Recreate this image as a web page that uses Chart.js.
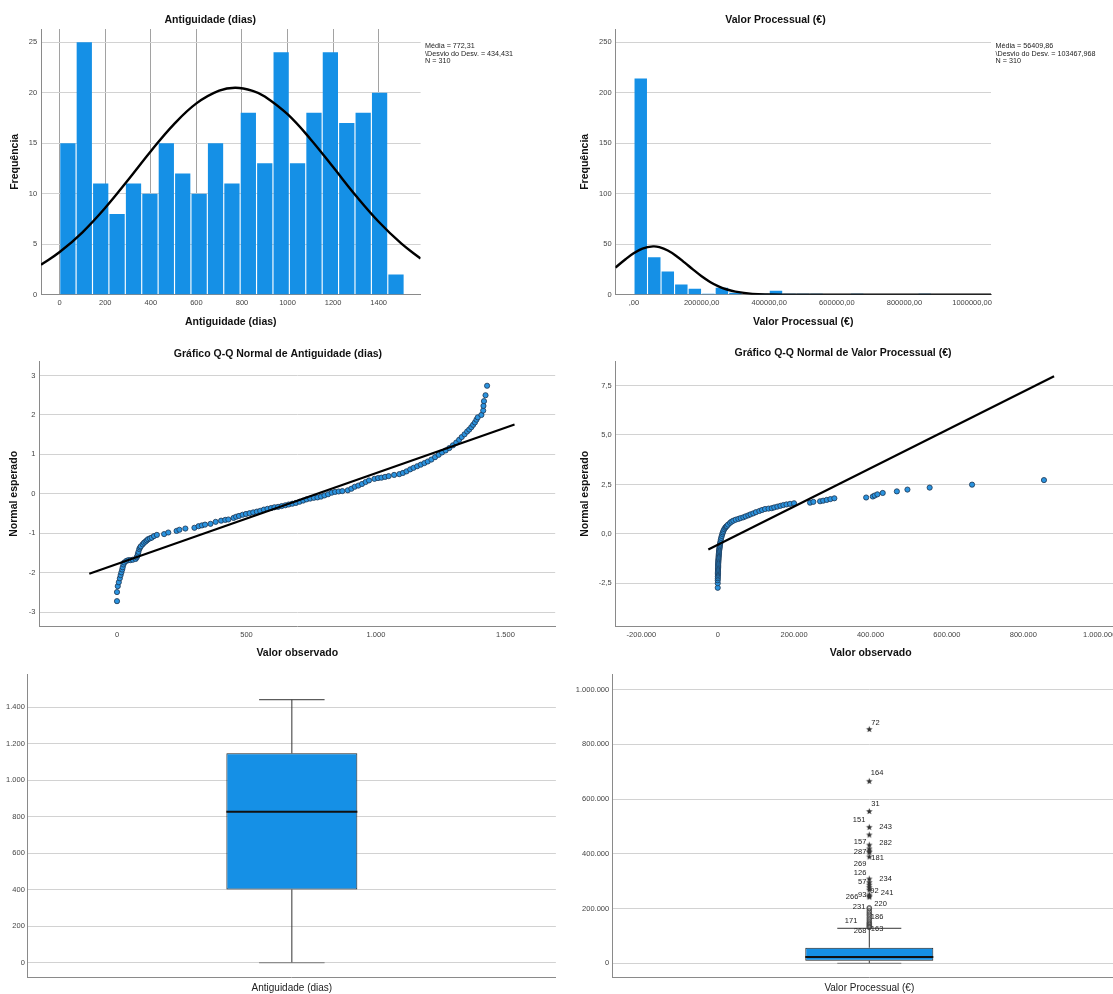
<!DOCTYPE html>
<html>
<head>
<meta charset="utf-8">
<script src="https://cdn.jsdelivr.net/npm/chart.js@4.4.0/dist/chart.umd.min.js"></script>
<style>
html, body { margin: 0; padding: 0; background: #fff; overflow: hidden; width: 1113px; height: 994px; position: relative; }
canvas { position: absolute; }
</style>
</head>
<body>
<canvas id="histAntig" width="560" height="335" style="left:0;top:0"></canvas>
<canvas id="histValor" width="580" height="335" style="left:560px;top:0"></canvas>
<canvas id="qqAntig" width="560" height="330" style="left:0;top:335px"></canvas>
<canvas id="qqValor" width="580" height="330" style="left:560px;top:335px"></canvas>
<canvas id="boxAntig" width="560" height="329" style="left:0;top:665px"></canvas>
<canvas id="boxValor" width="580" height="329" style="left:560px;top:665px"></canvas>
<script>
// ---- histogram: Antiguidade (dias)
const antigBinMid = [36, 108, 180, 252, 324, 396, 468, 540, 612, 684, 756, 828, 900, 972, 1044, 1116, 1188, 1260, 1332, 1404, 1476];
const antigFreq = [15, 25, 11, 8, 11, 10, 15, 12, 10, 15, 11, 18, 13, 24, 13, 18, 24, 17, 18, 20, 2];
const antigCurveX = [-82, 0, 100, 200, 300, 400, 500, 600, 700, 772, 850, 900, 1000, 1100, 1200, 1300, 1400, 1500, 1584];
const antigCurveY = [2.96, 4.22, 6.18, 8.6, 11.35, 14.2, 16.84, 18.94, 20.2, 20.49, 20.16, 19.63, 17.87, 15.42, 12.63, 9.8, 7.22, 5.05, 3.58];
const antigXTicks = [0, 200, 400, 600, 800, 1000, 1200, 1400];
const antigXLabels = ['0', '200', '400', '600', '800', '1000', '1200', '1400'];
const antigFreqTicks = [0, 5, 10, 15, 20, 25];
const antigStats = ['Média = 772,31', '\\Desvio do Desv. = 434,431', 'N = 310'];

// ---- histogram: Valor Processual
const valorBinMid = [20000, 60000, 100000, 140000, 180000, 220000, 260000, 300000, 340000, 380000, 420000,
  460000, 500000, 540000, 580000, 620000, 660000, 700000, 740000, 780000, 820000, 860000];
const valorFreq = [214, 37, 23, 10, 6, 1, 7, 2, 0, 1, 4, 1, 1, 1, 0, 0, 1, 0, 0, 0, 0, 1];
const valorCurveX = [-55000, -25000, 0, 25000, 56410, 75000, 100000, 125000, 150000, 175000, 200000, 225000,
  250000, 275000, 300000, 350000, 400000, 450000, 500000, 1056000];
const valorCurveY = [26.8, 35.1, 41.2, 45.7, 47.8, 47.04, 43.75, 38.4, 31.76, 24.8, 18.26, 12.65, 8.31, 5.13,
  2.99, 0.85, 0.19, 0.03, 0, 0];
const valorXTicks = [0, 200000, 400000, 600000, 800000, 1000000];
const valorXLabels = [',00', '200000,00', '400000,00', '600000,00', '800000,00', '1000000,00'];
const valorFreqTicks = [0, 50, 100, 150, 200, 250];
const valorStats = ['Média = 56409,86', '\\Desvio do Desv. = 103467,968', 'N = 310'];

// ---- Q-Q: Antiguidade
const antigQQObs = [0, 0, 3, 7, 11, 14, 17, 20, 22, 25, 28, 36, 44, 52, 61, 72, 76, 79, 81, 83,
  86, 89, 92, 99, 104, 110, 115, 120, 127, 134, 143, 154, 182, 198, 230, 241, 264, 299, 315, 328,
  340, 361, 381, 402, 418, 430, 450, 460, 471, 485, 498, 512, 526, 540, 553, 567, 581, 595, 608, 622,
  636, 650, 663, 677, 691, 705, 719, 732, 746, 760, 774, 788, 801, 815, 829, 842, 856, 870, 891, 905,
  918, 932, 946, 960, 973, 994, 1008, 1021, 1035, 1049, 1070, 1090, 1104, 1118, 1132, 1145, 1159, 1173, 1187, 1200,
  1214, 1228, 1242, 1255, 1269, 1283, 1297, 1310, 1321, 1331, 1342, 1352, 1360, 1368, 1375, 1382, 1388, 1393, 1407, 1414,
  1415, 1417, 1423, 1429];
const antigQQExp = [-2.72, -2.49, -2.34, -2.24, -2.14, -2.06, -1.99, -1.92, -1.86, -1.79, -1.74, -1.70, -1.68, -1.68, -1.67, -1.65, -1.61, -1.57, -1.52, -1.47,
  -1.40, -1.36, -1.33, -1.28, -1.24, -1.21, -1.18, -1.15, -1.13, -1.11, -1.07, -1.04, -1.02, -0.98, -0.94, -0.91, -0.88, -0.86, -0.82, -0.80,
  -0.78, -0.76, -0.71, -0.68, -0.66, -0.65, -0.61, -0.58, -0.56, -0.53, -0.51, -0.49, -0.47, -0.45, -0.43, -0.40, -0.38, -0.36, -0.34, -0.33,
  -0.31, -0.29, -0.27, -0.25, -0.23, -0.20, -0.17, -0.14, -0.12, -0.10, -0.09, -0.07, -0.04, -0.01, 0.03, 0.05, 0.06, 0.07, 0.09, 0.13,
  0.18, 0.21, 0.25, 0.30, 0.34, 0.38, 0.40, 0.41, 0.43, 0.45, 0.48, 0.50, 0.53, 0.57, 0.62, 0.66, 0.70, 0.74, 0.78, 0.82,
  0.87, 0.93, 0.99, 1.05, 1.10, 1.16, 1.23, 1.30, 1.37, 1.44, 1.51, 1.58, 1.63, 1.69, 1.75, 1.81, 1.88, 1.94, 2.00, 2.11,
  2.23, 2.35, 2.50, 2.74];
const antigRefX = [-107, 1535];
const antigRefY = [-2.024, 1.756];
const antigQQXTicks = [0, 500, 1000, 1500];
const antigQQXLabels = ['0', '500', '1.000', '1.500'];
const antigQQYTicks = [-3, -2, -1, 0, 1, 2, 3];
const antigQQYLabels = ['-3', '-2', '-1', '0', '1', '2', '3'];

// ---- Q-Q: Valor Processual
const valorQQObs = [0, 0, 0, 200, 300, 400, 500, 500, 600, 700, 800, 900, 1000, 1100, 1200, 1400, 1500, 1700, 1900, 2100,
  2300, 2500, 2800, 3000, 3300, 3600, 4000, 4400, 4800, 5300, 5800, 6300, 7000, 7900, 9000, 10500, 12000, 13500, 15000, 17000,
  19500, 21500, 23600, 27000, 32200, 36000, 40800, 47000, 53900, 60000, 67000, 73000, 80100, 86000, 93200, 100000, 108900, 116000, 123900, 133000,
  141400, 148000, 156100, 164000, 171800, 180000, 189300, 199800, 241700, 250300, 267900, 276000, 285400, 295000, 305300, 388600, 406000, 411000, 418000, 432000,
  469000, 496700, 554900, 665900, 854200];
const valorQQExp = [-2.72, -2.49, -2.34, -2.24, -2.15, -2.07, -2.00, -1.94, -1.88, -1.82, -1.76, -1.70, -1.64, -1.58, -1.52, -1.46, -1.40, -1.34, -1.28, -1.22,
  -1.16, -1.10, -1.04, -0.98, -0.92, -0.86, -0.80, -0.74, -0.68, -0.62, -0.55, -0.48, -0.40, -0.30, -0.20, -0.10, 0.00, 0.08, 0.16, 0.24,
  0.31, 0.36, 0.40, 0.47, 0.56, 0.62, 0.67, 0.72, 0.76, 0.80, 0.84, 0.89, 0.94, 0.99, 1.04, 1.10, 1.16, 1.21, 1.26, 1.28,
  1.30, 1.34, 1.38, 1.42, 1.46, 1.49, 1.52, 1.55, 1.58, 1.62, 1.65, 1.68, 1.72, 1.76, 1.80, 1.84, 1.89, 1.94, 2.00, 2.07,
  2.15, 2.24, 2.34, 2.49, 2.72];
const valorRefX = [-24700, 880600];
const valorRefY = [-0.784, 7.966];
const valorQQXTicks = [-200000, 0, 200000, 400000, 600000, 800000, 1000000];
const valorQQXLabels = ['-200.000', '0', '200.000', '400.000', '600.000', '800.000', '1.000.000'];
const valorQQYTicks = [-2.5, 0, 2.5, 5, 7.5];
const valorQQYLabels = ['-2,5', '0,0', '2,5', '5,0', '7,5'];

// ---- box plots: [min, Q1, median, Q3, max]
const antigBox = [0, 402, 828, 1148, 1442];
const antigBoxTicks = [0, 200, 400, 600, 800, 1000, 1200, 1400];
const antigBoxLabels = ['0', '200', '400', '600', '800', '1.000', '1.200', '1.400'];
const valorBox = [0, 9500, 23000, 57000, 128000];
const valorExtremes = [855000, 665000, 555000, 497000, 469000, 432000, 418000, 410000, 405000, 389000,
  308000, 295000, 286000, 277000, 268000, 250000, 245000, 242000];
const valorMild = [203000, 199000, 192000, 186000, 180000, 175000, 168000, 162000, 156000, 150000, 146000, 142000, 138000, 134000, 131000];
const valorCaseIds = ['72', '164', '31', '151', '243', '157', '282', '287', '181', '269', '126', '234', '57', '92', '241', '266', '93', '220', '231', '186', '171', '268', '163'];
const valorCaseAt = [878600, 695800, 581400, 522900, 498400, 444600, 438800, 408000, 383900, 364200, 330200, 307100, 297300, 264400, 256000, 243500, 249700, 216800, 204800, 170400, 154700, 119200, 124300];
const valorBoxTicks = [0, 200000, 400000, 600000, 800000, 1000000];
const valorBoxLabels = ['0', '200.000', '400.000', '600.000', '800.000', '1.000.000'];

// label offsets from the whisker (px); negative = text ends left of it
const caseDx = [2, 1.5, 2, -4, 10, -3, 10, -3, 2, -3, -3, 10, -3, 1, 11.5, -11, -3, 5, -4, 1.5, -12, -3, 1.5];

Chart.defaults.font.family = "'Liberation Sans', Arial, sans-serif";
Chart.defaults.color = '#333';
Chart.defaults.animation = false;
Chart.defaults.plugins.legend.display = false;
Chart.defaults.plugins.tooltip.enabled = false;

const blue = '#1590e6';
const gridCol = '#d2d2d2';
const axisCol = '#8a8a8a';
const titleFont = {size: 10.5, weight: 'bold'};

function linAxis(o) {
  const horiz = o.pos === 'bottom';
  return {
    type: 'linear', position: o.pos, min: o.min, max: o.max, offset: false,
    afterBuildTicks: s => { s.ticks = o.ticks.map(v => ({value: v})); },
    afterFit: s => { if (horiz) s.height = o.size; else s.width = o.size; },
    ticks: {font: {size: 7.5}, color: '#444', padding: o.tickPad, autoSkip: false, maxRotation: 0,
      callback: (v, i) => o.labels[i]},
    grid: {display: o.grid !== false, color: o.gridColor || gridCol, drawTicks: false, offset: false},
    border: {display: true, color: axisCol, width: 1},
    title: o.title ? {display: true, text: o.title, font: titleFont, color: '#111',
      padding: horiz ? {top: 0, bottom: o.titlePad} : {top: o.titlePad, bottom: 0}} : {display: false}
  };
}

const statsPlugin = {
  id: 'stats',
  afterDraw(chart, args, opts) {
    const {ctx, chartArea} = chart;
    ctx.save();
    ctx.font = "7.2px 'Liberation Sans', Arial, sans-serif";
    ctx.fillStyle = '#222';
    ctx.textBaseline = 'middle';
    opts.lines.forEach((t, i) => ctx.fillText(t, chartArea.right + 4.5, chartArea.top + 17.3 + i * 7.35));
    ctx.restore();
  }
};

const boxPlugin = {
  id: 'boxStats',
  afterDatasetsDraw(chart, args, opts) {
    const {ctx} = chart;
    const ys = chart.scales.y;
    const el = chart.getDatasetMeta(0).data[0];
    const [lo, q1, med, q3, hi] = opts.stats.map(v => ys.getPixelForValue(v));
    const x = el.x, hw = el.width / 2, cw = el.width / 4;
    const seg = (x1, y1, x2, y2) => { ctx.beginPath(); ctx.moveTo(x1, y1); ctx.lineTo(x2, y2); ctx.stroke(); };
    ctx.save();
    ctx.strokeStyle = '#333';
    ctx.lineWidth = 1;
    seg(x, q3, x, hi);
    seg(x, q1, x, lo);
    seg(x - cw, hi, x + cw, hi);
    ctx.strokeStyle = '#777';
    seg(x - cw, lo, x + cw, lo);
    ctx.strokeStyle = '#111';
    ctx.lineWidth = 2;
    seg(x - hw, med, x + hw, med);
    if (opts.ids) {
      ctx.font = "7.5px 'Liberation Sans', Arial, sans-serif";
      ctx.fillStyle = '#222';
      ctx.textBaseline = 'middle';
      opts.ids.forEach((t, i) => {
        const dx = opts.dx[i];
        ctx.textAlign = dx < 0 ? 'right' : 'left';
        ctx.fillText(t, x + dx, ys.getPixelForValue(opts.at[i]));
      });
    }
    ctx.restore();
  }
};

function starImage(r, color) {
  const c = document.createElement('canvas');
  const s = Math.ceil(r * 2 + 2);
  c.width = c.height = s;
  const g = c.getContext('2d');
  g.fillStyle = color;
  g.beginPath();
  for (let i = 0; i < 10; i++) {
    const a = -Math.PI / 2 + i * Math.PI / 5;
    const rr = i % 2 ? r * 0.42 : r;
    g.lineTo(s / 2 + rr * Math.cos(a), s / 2 + rr * Math.sin(a));
  }
  g.closePath();
  g.fill();
  return c;
}

const pts = (xs, ys) => xs.map((x, i) => ({x, y: ys[i]}));

// histogram Antiguidade
new Chart(document.getElementById('histAntig'), {
  type: 'bar',
  data: {datasets: [
    {type: 'bar', order: 2, data: pts(antigBinMid, antigFreq), backgroundColor: blue, borderWidth: 0,
      barPercentage: 0.93, categoryPercentage: 1},
    {type: 'line', order: 1, data: pts(antigCurveX, antigCurveY), borderColor: '#000', borderWidth: 2.4,
      pointRadius: 0, tension: 0.4, fill: false}
  ]},
  options: {
    responsive: false,
    layout: {padding: {left: 0, right: 139.4, top: 0, bottom: 0}},
    plugins: {
      title: {display: true, text: 'Antiguidade (dias)', font: titleFont, color: '#111', padding: {top: 14, bottom: 2.4}},
      stats: {lines: antigStats}
    },
    scales: {
      x: linAxis({pos: 'bottom', min: -82, max: 1584, ticks: antigXTicks, labels: antigXLabels, size: 40.3,
        tickPad: 3.5, gridColor: '#a2a2a2', title: 'Antiguidade (dias)', titlePad: 6.4}),
      y: linAxis({pos: 'left', min: 0, max: 26.3, ticks: antigFreqTicks, labels: antigFreqTicks.map(String), size: 41,
        tickPad: 3.8, title: 'Frequência', titlePad: 8.7})
    }
  },
  plugins: [statsPlugin]
});

// histogram Valor Processual
new Chart(document.getElementById('histValor'), {
  type: 'bar',
  data: {datasets: [
    {type: 'bar', order: 2, data: pts(valorBinMid, valorFreq), backgroundColor: blue, borderWidth: 0,
      barPercentage: 0.92, categoryPercentage: 1},
    {type: 'line', order: 1, data: pts(valorCurveX, valorCurveY), borderColor: '#000', borderWidth: 2.4,
      pointRadius: 0, tension: 0.4, fill: false}
  ]},
  options: {
    responsive: false,
    layout: {padding: {left: 0, right: 149, top: 0, bottom: 0}},
    plugins: {
      title: {display: true, text: 'Valor Processual (€)', font: titleFont, color: '#111', padding: {top: 14, bottom: 2.4}},
      stats: {lines: valorStats}
    },
    scales: {
      x: linAxis({pos: 'bottom', min: -55000, max: 1056000, ticks: valorXTicks, labels: valorXLabels, size: 40.3,
        tickPad: 3.5, grid: false, title: 'Valor Processual (€)', titlePad: 6.4}),
      y: linAxis({pos: 'left', min: 0, max: 263, ticks: valorFreqTicks, labels: valorFreqTicks.map(String), size: 55.4,
        tickPad: 3.8, title: 'Frequência', titlePad: 18.4})
    }
  },
  plugins: [statsPlugin]
});

const qqPoint = {backgroundColor: '#2a93df', borderColor: '#1d3550', borderWidth: 0.8, pointRadius: 2.6, showLine: false};
const refLine = {borderColor: '#000', borderWidth: 2.2, pointRadius: 0, showLine: true};

// Q-Q Antiguidade
new Chart(document.getElementById('qqAntig'), {
  type: 'scatter',
  data: {datasets: [
    Object.assign({order: 2, data: pts(antigQQObs, antigQQExp)}, qqPoint),
    Object.assign({order: 1, data: pts(antigRefX, antigRefY)}, refLine)
  ]},
  options: {
    responsive: false,
    layout: {padding: {left: 0, right: 4.1, top: 0, bottom: 0}},
    plugins: {
      title: {display: true, text: 'Gráfico Q-Q Normal de Antiguidade (dias)', font: titleFont, color: '#111', padding: {top: 12.7, bottom: 1.4}}
    },
    scales: {
      x: linAxis({pos: 'bottom', min: -300, max: 1692, ticks: antigQQXTicks, labels: antigQQXLabels, size: 39,
        tickPad: 4.5, grid: false, title: 'Valor observado', titlePad: 5.4}),
      y: linAxis({pos: 'left', min: -3.35, max: 3.35, ticks: antigQQYTicks, labels: antigQQYLabels, size: 39.3,
        tickPad: 3.8, title: 'Normal esperado', titlePad: 8})
    }
  }
});

// Q-Q Valor Processual
new Chart(document.getElementById('qqValor'), {
  type: 'scatter',
  data: {datasets: [
    Object.assign({order: 2, data: pts(valorQQObs, valorQQExp)}, qqPoint),
    Object.assign({order: 1, data: pts(valorRefX, valorRefY)}, refLine)
  ]},
  options: {
    responsive: false,
    layout: {padding: {left: 0, right: 14, top: 0, bottom: 0}},
    plugins: {
      title: {display: true, text: 'Gráfico Q-Q Normal de Valor Processual (€)', font: titleFont, color: '#111', padding: {top: 12, bottom: 2.1}}
    },
    scales: {
      x: linAxis({pos: 'bottom', min: -268000, max: 1069000, ticks: valorQQXTicks, labels: valorQQXLabels, size: 39,
        tickPad: 4.5, grid: false, title: 'Valor observado', titlePad: 5.4}),
      y: linAxis({pos: 'left', min: -4.65, max: 8.7, ticks: valorQQYTicks, labels: valorQQYLabels, size: 55.4,
        tickPad: 3.8, title: 'Normal esperado', titlePad: 19.1})
    }
  }
});

function catAxis() {
  return {
    type: 'category', offset: true,
    afterFit: s => { s.height = 16.3; },
    grid: {display: false, drawTicks: false},
    border: {display: true, color: axisCol, width: 1},
    ticks: {font: {size: 10}, color: '#222', padding: 4.6}
  };
}

// box plot Antiguidade
new Chart(document.getElementById('boxAntig'), {
  type: 'bar',
  data: {
    labels: ['Antiguidade (dias)'],
    datasets: [{data: [[antigBox[1], antigBox[3]]], backgroundColor: blue, borderColor: '#222', borderWidth: 1,
      borderSkipped: false, barPercentage: 0.248, categoryPercentage: 1}]
  },
  options: {
    responsive: false,
    layout: {padding: {left: 0, right: 4.1, top: 9, bottom: 0}},
    plugins: {boxStats: {stats: antigBox}},
    scales: {
      x: catAxis(),
      y: linAxis({pos: 'left', min: -82, max: 1583, ticks: antigBoxTicks, labels: antigBoxLabels, size: 27.8, tickPad: 3})
    }
  },
  plugins: [boxPlugin]
});

// box plot Valor Processual
const catV = 'Valor Processual (€)';
new Chart(document.getElementById('boxValor'), {
  type: 'bar',
  data: {
    labels: [catV],
    datasets: [
      {data: [[valorBox[1], valorBox[3]]], backgroundColor: blue, borderColor: '#222', borderWidth: 1,
        borderSkipped: false, barPercentage: 0.249, categoryPercentage: 1},
      {type: 'line', showLine: false, data: valorMild.map(v => ({x: catV, y: v})), pointStyle: 'circle',
        pointRadius: 2.3, backgroundColor: 'rgba(0,0,0,0)', borderColor: '#444', borderWidth: 0.8},
      {type: 'line', showLine: false, data: valorExtremes.map(v => ({x: catV, y: v})),
        pointStyle: starImage(3.4, '#333'), pointRadius: 3}
    ]
  },
  options: {
    responsive: false,
    layout: {padding: {left: 0, right: 13.6, top: 9, bottom: 0}},
    plugins: {boxStats: {stats: valorBox, ids: valorCaseIds, at: valorCaseAt, dx: caseDx}},
    scales: {
      x: catAxis(),
      y: linAxis({pos: 'left', min: -52600, max: 1057400, ticks: valorBoxTicks, labels: valorBoxLabels, size: 52.2, tickPad: 3})
    }
  },
  plugins: [boxPlugin]
});
</script>
</body>
</html>
